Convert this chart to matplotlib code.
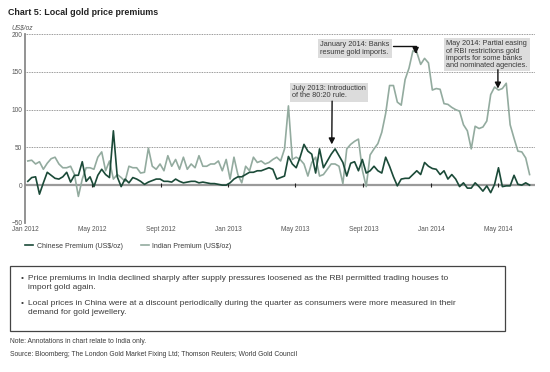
import pandas as pd
import matplotlib
matplotlib.use("Agg")
import matplotlib.pyplot as plt
from matplotlib.patches import Rectangle

plt.rcParams['font.family'] = ['Liberation Sans', 'DejaVu Sans']

# weekly premiums, US$/oz
dates = pd.date_range('2012-01-06', periods=130, freq='7D')
chinese = [5, 10, 11, -12, 3, 17, 13, 9, 8, 11,
           17, 4, 13, 13, 31, 5, 11, -2, 13, 21,
           14, 10, 72, 11, -2, 8, 3, 10, 8, 5,
           1, 4, 6, 8, 8, 5, 5, 4, 8, 5,
           3, 4, 5, 5, 3, 4, 3, 2, 2, 1,
           0, 0, 3, 8, 11, 11, 14, 17, 17, 19,
           19, 21, 23, 21, 8, 10, 12, 38, 28, 23,
           37, 54, 45, 41, 16, 48, 23, 32, 41, 48,
           39, 30, 12, 29, 31, 19, 34, 16, 19, 25,
           19, 16, 37, 25, 11, -1, 8, 9, 9, 14,
           19, 14, 30, 25, 22, 21, 14, 19, 8, 14,
           8, -2, 3, -4, -4, 3, -2, -8, -1, -10,
           1, 23, -2, -1, -1, 13, 1, 0, 3, 0]
indian = [32, 33, 28, 31, 21, 29, 35, 37, 28, 23,
          23, 25, 14, -15, 8, 23, 23, 21, 37, 44,
          19, 32, 8, 14, 10, 5, 25, 23, 23, 16,
          17, 49, 25, 21, 28, 19, 39, 25, 34, 21,
          37, 21, 28, 23, 39, 25, 25, 28, 28, 32,
          19, 34, 8, 37, 14, 3, 25, 19, 37, 30,
          32, 28, 30, 34, 37, 32, 48, 105, 34, 37,
          34, 28, 12, 30, 37, 12, 14, 21, 28, 28,
          25, 2, 48, 54, 58, 61, 20, -2, 40, 48,
          55, 70, 95, 132, 132, 110, 106, 140, 155, 178,
          176, 160, 168, 162, 126, 128, 127, 108, 107, 103,
          100, 98, 80, 72, 48, 78, 75, 77, 85, 120,
          130, 126, 128, 135, 80, 62, 45, 44, 36, 14]

tick_dates = pd.to_datetime(['2012-01-01', '2012-05-01', '2012-09-01', '2013-01-01',
                             '2013-05-01', '2013-09-01', '2014-01-01', '2014-05-01'])
tick_labels = ['Jan 2012', 'May 2012', 'Sept 2012', 'Jan 2013',
               'May 2013', 'Sept 2013', 'Jan 2014', 'May 2014']
y_ticks = [-50, 0, 50, 100, 150, 200]

txt = '#3a3a3a'
c_cn = '#1b4a38'
c_in = '#93ab9f'

fig = plt.figure(figsize=(5.5, 3.72), dpi=100)
ax = fig.add_axes([0.0455, 0.401, 0.9275, 0.507])

ln_in, = ax.plot(dates, indian, color=c_in, lw=1.2, zorder=3)
ln_cn, = ax.plot(dates, chinese, color=c_cn, lw=1.2, zorder=4)

ax.set_xlim(pd.Timestamp('2012-01-01'), pd.Timestamp('2014-07-07'))
ax.set_ylim(-50, 200)
ax.set_yticks(y_ticks)
ax.set_xticks(tick_dates)
ax.set_xticklabels(tick_labels)
ax.tick_params(length=0, labelsize=4.7, labelcolor='#555555', pad=2.5)
ax.tick_params(axis='y', pad=2)

for s in ['top', 'right', 'bottom']:
    ax.spines[s].set_visible(False)
ax.spines['left'].set_color('#8a8a8a')
ax.spines['left'].set_linewidth(1.3)

ax.yaxis.grid(True, linestyle=(0, (1, 1)), color='#777777', lw=0.6)
ax.set_axisbelow(True)
ax.axhline(0, color='#9a9a9a', lw=1.6, zorder=2)
ax.vlines(tick_dates[1:], -3, 3, color='#222222', lw=0.8, zorder=2)

# annotations
box = dict(boxstyle='square,pad=0.3', fc='#dcdcdc', ec='none')
ax.text(0.523, 0.730, 'July 2013: Introduction\nof the 80:20 rule.', transform=ax.transAxes,
        fontsize=5.3, color=txt, va='top', ha='left', bbox=box, linespacing=1.05, zorder=5)
ax.text(0.579, 0.962, 'January 2014: Banks\nresume gold imports.', transform=ax.transAxes,
        fontsize=5.3, color=txt, va='top', ha='left', bbox=box, linespacing=1.05, zorder=5)
ax.text(0.826, 0.968, 'May 2014: Partial easing\nof RBI restrictions gold\n'
        'imports for some banks\nand nominated agencies.', transform=ax.transAxes,
        fontsize=5.3, color=txt, va='top', ha='left', bbox=box, linespacing=1.05, zorder=5)

arrow = dict(arrowstyle='-|>,head_length=0.35,head_width=0.18', color='#111111', lw=1.0,
             shrinkA=0, shrinkB=0)
ax.annotate('', xy=(pd.Timestamp('2013-07-06'), 54), xycoords='data',
            xytext=(0.602, 0.645), textcoords='axes fraction', arrowprops=arrow, zorder=6)
ax.annotate('', xy=(pd.Timestamp('2013-12-04'), 174), xycoords='data',
            xytext=(0.722, 0.938), textcoords='axes fraction',
            arrowprops=dict(arrow, connectionstyle='angle,angleA=0,angleB=90,rad=0'), zorder=6)
ax.annotate('', xy=(pd.Timestamp('2014-05-01'), 128), xycoords='data',
            xytext=(0.927, 0.812), textcoords='axes fraction', arrowprops=arrow, zorder=6)

# title and unit
fig.text(0.015, 0.978, 'Chart 5: Local gold price premiums', fontsize=6.4, fontweight='bold',
         color='#222222', va='top', ha='left')
fig.text(0.020, 0.925, 'US$/oz', fontsize=4.8, style='italic', color='#555555',
         va='center', ha='left')

# legend
lg = fig.legend([ln_cn, ln_in], ['Chinese Premium (US$/oz)', 'Indian Premium (US$/oz)'],
                loc='center left', bbox_to_anchor=(0.045, 0.338), ncol=2, frameon=False,
                fontsize=5.0, handlelength=1.25, handletextpad=0.45, columnspacing=2.6,
                borderpad=0, borderaxespad=0)
for t in lg.get_texts():
    t.set_color(txt)

# commentary box
fig.patches.append(Rectangle((0.018, 0.110), 0.9, 0.175, transform=fig.transFigure,
                             fill=False, ec='#444444', lw=0.9))
bullets = ['Price premiums in India declined sharply after supply pressures loosened as the RBI '
           'permitted trading houses to\nimport gold again.',
           'Local prices in China were at a discount periodically during the quarter as consumers '
           'were more measured in their\ndemand for gold jewellery.']
for k, b in enumerate(bullets):
    y = 0.261 - k * 0.067
    fig.text(0.038, y, '\u2022', fontsize=6.0, color=txt, va='top', ha='left')
    fig.text(0.051, y, b, fontsize=6.0, color=txt, va='top', ha='left', linespacing=1.48)

fig.text(0.018, 0.081, 'Note: Annotations in chart relate to India only.', fontsize=4.9,
         color=txt, va='center', ha='left')
fig.text(0.018, 0.048, 'Source: Bloomberg; The London Gold Market Fixing Ltd; Thomson Reuters; '
         'World Gold Council', fontsize=4.9, color=txt, va='center', ha='left')

fig.savefig('out.png', dpi=100)
